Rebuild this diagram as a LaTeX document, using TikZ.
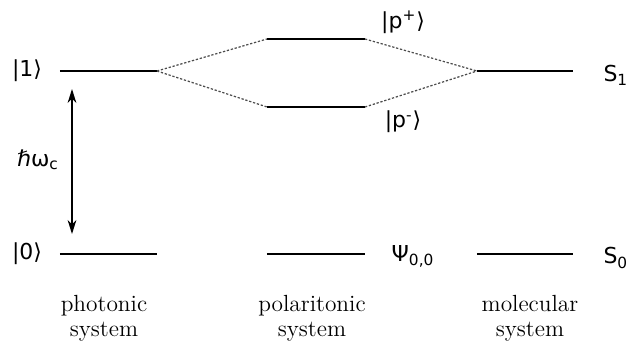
\documentclass[tikz,border=0pt]{standalone}
\usepackage{fontspec}
\usepackage{amsmath}
\usetikzlibrary{arrows.meta}
\newfontfamily\ketfont{DejaVu Sans}

\begin{document}
\begin{tikzpicture}[x=0.02cm,y=-0.02cm,thick,every node/.style={font=\fontsize{13.3}{14.2}\selectfont}]
        \useasboundingbox (0,0) rectangle (627,341);
        \tikzset{level/.style={line width=1.3pt},
                 mix/.style={gray!60!black,line width=0.7pt,dash pattern=on 1.3pt off 1pt},
                 ket/.style={font=\ketfont\fontsize{12.5}{15}\selectfont},
                 term/.style={font=\ketfont\fontsize{12.5}{15}\selectfont,anchor=west}}
        \coordinate (p1l) at (60,71);   \coordinate (p1r) at (157,71);
        \coordinate (p0l) at (60,254);  \coordinate (p0r) at (157,254);
        \coordinate (upl) at (267,39);  \coordinate (upr) at (365,39);
        \coordinate (lpl) at (267,107); \coordinate (lpr) at (365,107);
        \coordinate (g0l) at (267,254); \coordinate (g0r) at (365,254);
        \coordinate (m1l) at (477,71);  \coordinate (m1r) at (573,71);
        \coordinate (m0l) at (477,254); \coordinate (m0r) at (573,254);
        \coordinate (gapt) at (72,89);  \coordinate (gapb) at (72,234);
        \draw[level] (p1l) -- (p1r);
        \draw[level] (p0l) -- (p0r);
        \draw[level] (upl) -- (upr);
        \draw[level] (lpl) -- (lpr);
        \draw[level] (g0l) -- (g0r);
        \draw[level] (m1l) -- (m1r);
        \draw[level] (m0l) -- (m0r);
        \draw[mix] (p1r) -- (upl);
        \draw[mix] (p1r) -- (lpl);
        \draw[mix] (upr) -- (m1l);
        \draw[mix] (lpr) -- (m1l);
        \draw[{Stealth[length=8pt,width=5pt]}-{Stealth[length=8pt,width=5pt]},line width=0.7pt] (gapt) -- (gapb);
        \node[ket] (k1) at (27,71) {|1⟩};
        \node[ket] (k0) at (27,254) {|0⟩};
        \node[ket] (hw) at (38,160) {ℏω\textsubscript{c}};
        \node[ket] (kp) at (403,22) {|p\textsuperscript{+}⟩};
        \node[ket] (km) at (403,122) {|p\textsuperscript{-}⟩};
        \node[ket] (psi) at (413,256) {Ψ\textsubscript{0,0}};
        \node[term] (s1) at (597,75) {S\textsubscript{1}};
        \node[term] (s0) at (597,258) {S\textsubscript{0}};
        \node[align=center] (phot) at (104,318) {photonic\\system};
        \node[align=center] (pola) at (312,318) {polaritonic\\system};
        \node[align=center] (mole) at (530,318) {molecular\\system};
    \end{tikzpicture}
\end{document}
